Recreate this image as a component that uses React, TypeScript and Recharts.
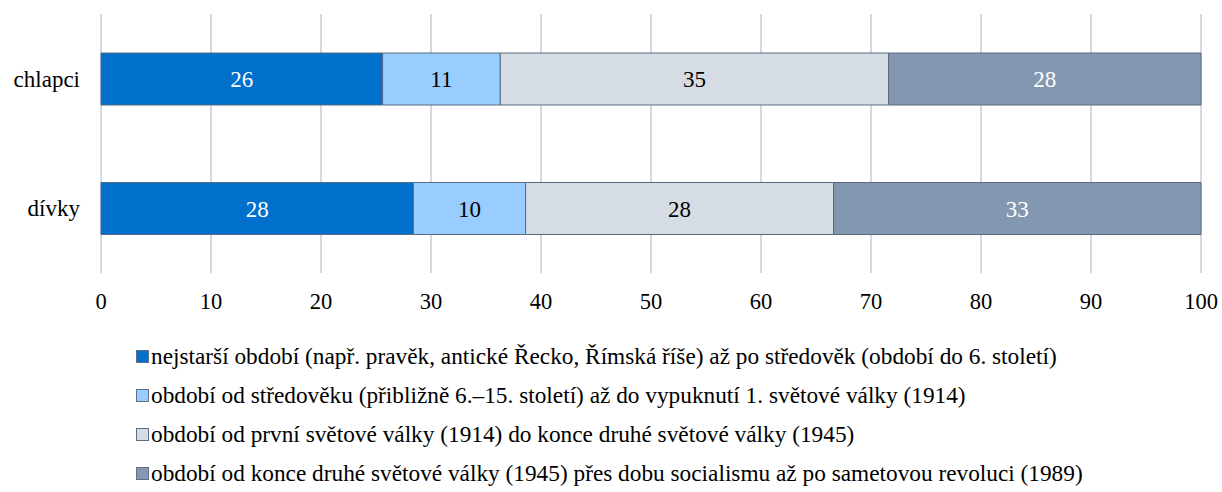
import { BarChart, Bar, XAxis, YAxis, CartesianGrid, LabelList, Legend } from 'recharts';

const categories = ['chlapci', 'dívky'];
const periods = [
  'nejstarší období (např. pravěk, antické Řecko, Římská říše) až po středověk (období do 6. století)',
  'období od středověku (přibližně 6.–15. století) až do vypuknutí 1. světové války (1914)',
  'období od první světové války (1914) do konce druhé světové války (1945)',
  'období od konce druhé světové války (1945) přes dobu socialismu až po sametovou revoluci (1989)',
];
// podíly v % pro chlapce a dívky
const ancient = [25.6, 28.4];
const modern = [10.7, 10.2];
const worldWars = [35.3, 28.0];
const socialism = [28.4, 33.4];
const xTicks = [0, 10, 20, 30, 40, 50, 60, 70, 80, 90, 100];

const COLORS = ['#0070cc', '#99ccff', '#d6dce4', '#8497b0'];
const LABEL_COLORS = ['#ffffff', '#000000', '#000000', '#ffffff'];
const KEYS = ['s0', 's1', 's2', 's3'];
const FONT = "'Liberation Serif', 'Times New Roman', serif";

const data = categories.map((c, i) => ({
  name: c,
  s0: ancient[i],
  s1: modern[i],
  s2: worldWars[i],
  s3: socialism[i],
}));

function LegendBox() {
  return (
    <div style={{ height: 189, paddingTop: 34, boxSizing: 'border-box', paddingLeft: 136, fontFamily: FONT, fontSize: 23.3, color: '#000' }}>
      {periods.map((p, i) => (
        <div key={p} style={{ height: 39, lineHeight: '39px', display: 'flex', alignItems: 'center' }}>
          <span style={{ width: 11, height: 11, background: COLORS[i], border: '1px solid #5f6f86', marginRight: 2, flexShrink: 0 }} />
          <span>{p}</span>
        </div>
      ))}
    </div>
  );
}

export default function App() {
  return (
    <div style={{ position: 'absolute', left: 0, top: 0, width: 1222, height: 492, background: '#fff' }}>
      <BarChart width={1222} height={492} data={data} layout="vertical" barCategoryGap={0} barSize={52}
        margin={{ top: 14, right: 21, bottom: 0, left: 0 }}>
        <CartesianGrid horizontal={false} stroke="#a6b4c8" strokeWidth={1} />
        <XAxis type="number" domain={[0, 100]} ticks={xTicks} axisLine={false} tickLine={false}
          height={30} tick={{ fill: '#000', fontSize: 22.5, fontFamily: FONT }} tickMargin={14} />
        <YAxis type="category" dataKey="name" width={101} axisLine={false} tickLine={false}
          tick={{ fill: '#000', fontSize: 23, fontFamily: FONT }} tickMargin={15} />
        <Legend verticalAlign="bottom" content={() => <LegendBox />} />
        {KEYS.map((k, i) => (
          <Bar key={k} dataKey={k} stackId="a" fill={COLORS[i]} stroke="#5a6a80" strokeWidth={1} isAnimationActive={false}>
            <LabelList dataKey={k} position="center" formatter={(v: number) => Math.round(v)}
              fill={LABEL_COLORS[i]} fontSize={23} fontFamily={FONT} />
          </Bar>
        ))}
      </BarChart>
    </div>
  );
}
